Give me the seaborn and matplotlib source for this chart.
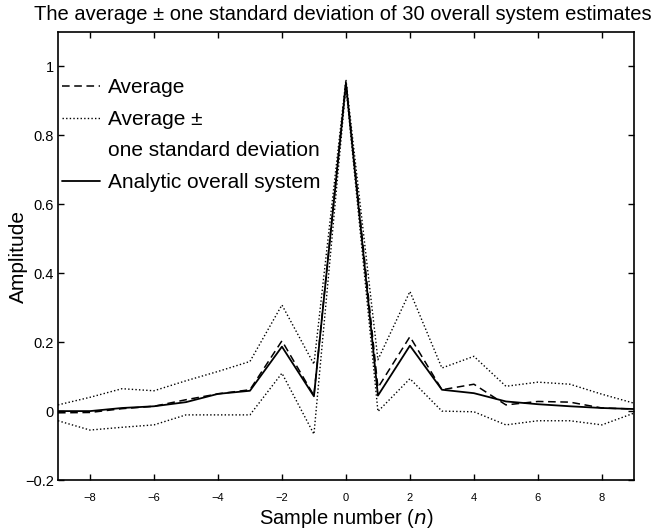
import numpy as np
import pandas as pd
import matplotlib
matplotlib.use("Agg")
import matplotlib.pyplot as plt
from matplotlib.lines import Line2D
import seaborn as sns

n = list(range(-9, 10))
analytic = [0.0, 0.0, 0.009, 0.014, 0.026, 0.05, 0.059, 0.187, 0.043, 0.951,
            0.045, 0.19, 0.062, 0.052, 0.028, 0.02, 0.014, 0.009, 0.006]
average = [-0.005, -0.004, 0.007, 0.014, 0.033, 0.05, 0.062, 0.204, 0.045, 0.955,
           0.068, 0.216, 0.062, 0.078, 0.018, 0.028, 0.026, 0.009, 0.006]
upper = [0.018, 0.04, 0.065, 0.059, 0.088, 0.115, 0.144, 0.308, 0.136, 0.962,
         0.149, 0.347, 0.125, 0.159, 0.072, 0.084, 0.078, 0.049, 0.023]
lower = [-0.028, -0.055, -0.047, -0.04, -0.011, -0.011, -0.011, 0.11, -0.067, 0.942,
         -0.001, 0.094, 0.0, -0.002, -0.04, -0.028, -0.028, -0.04, -0.006]
xticks = [-8, -6, -4, -2, 0, 2, 4, 6, 8]
yticks = [-0.2, 0, 0.2, 0.4, 0.6, 0.8, 1]
ytick_labels = ["\u22120.2", "0", "0.2", "0.4", "0.6", "0.8", "1"]
xtick_labels = ["\u22128", "\u22126", "\u22124", "\u22122", "0", "2", "4", "6", "8"]

sns.set_theme(style="ticks")
plt.rcParams['font.family'] = ['Liberation Sans', 'DejaVu Sans']
plt.rcParams['text.color'] = 'black'
plt.rcParams['axes.labelcolor'] = 'black'

fig = plt.figure(figsize=(6.61, 5.31), dpi=100)
ax = fig.add_axes([0.0877, 0.096, 0.8713, 0.8437])

df = pd.DataFrame({"n": n, "analytic": analytic, "average": average,
                   "upper": upper, "lower": lower})

dot = (0, (1, 1.6))
dash = (0, (5, 3))
sns.lineplot(data=df, x="n", y="upper", ax=ax, color="black", lw=1.0, linestyle=dot)
sns.lineplot(data=df, x="n", y="lower", ax=ax, color="black", lw=1.0, linestyle=dot)
sns.lineplot(data=df, x="n", y="average", ax=ax, color="black", lw=1.1, linestyle=dash)
sns.lineplot(data=df, x="n", y="analytic", ax=ax, color="black", lw=1.3, linestyle="-")

ax.set_xlim(-9, 9)
ax.set_ylim(-0.2, 1.1)
ax.set_xticks(xticks)
ax.set_xticklabels(xtick_labels)
ax.set_yticks(yticks)
ax.set_yticklabels(ytick_labels)
ax.tick_params(direction="in", length=4, width=1, top=True, right=True, colors="black")
ax.tick_params(axis="x", labelsize=8, pad=9)
ax.tick_params(axis="y", labelsize=10.5, pad=3)
for s in ax.spines.values():
    s.set_visible(True)
    s.set_color("black")
    s.set_linewidth(1.2)

ax.set_xlabel("Sample number ($n$)", fontsize=14.5, labelpad=3, color="black")
ax.set_ylabel("Amplitude", fontsize=15, labelpad=-2, color="black")
fig.text(0.518, 0.973, "The average \u00b1 one standard deviation of 30 overall system estimates",
         ha="center", va="center", fontsize=14.5, color="black")

handles = [
    Line2D([], [], color="black", lw=1.1, linestyle=dash),
    Line2D([], [], color="black", lw=1.0, linestyle=dot),
    Line2D([], [], color="none", lw=0),
    Line2D([], [], color="black", lw=1.3, linestyle="-"),
]
labels = ["Average", "Average \u00b1", "one standard deviation", "Analytic overall system"]
leg = ax.legend(handles, labels, loc="upper left", frameon=False, fontsize=15,
                handlelength=1.8, handletextpad=0.4, labelspacing=0.6,
                bbox_to_anchor=(-0.007, 0.915), borderaxespad=0, labelcolor="black")

fig.savefig("out.png", dpi=100)
